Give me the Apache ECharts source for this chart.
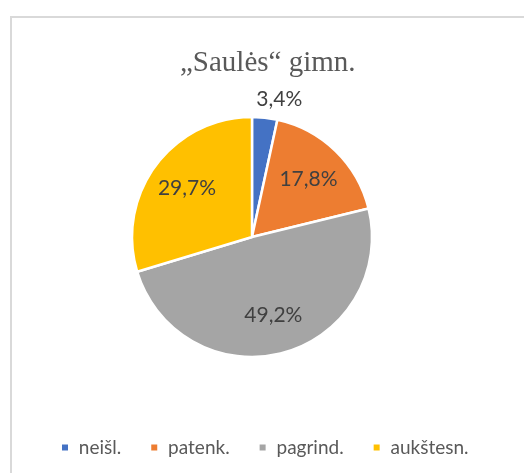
<!DOCTYPE html>
<html>
<head>
<meta charset="utf-8">
<script src="https://cdn.jsdelivr.net/npm/echarts@6/dist/echarts.min.js"></script>
<style>
  html, body { margin: 0; padding: 0; background: #fff; }
  #main { width: 524px; height: 473px; }
</style>
</head>
<body>
<div id="main"></div>
<script>
var categories = ['neišl.', 'patenk.', 'pagrind.', 'aukštesn.'];
var values = [3.4, 17.8, 49.2, 29.7];
var colors = ['#4472C4', '#ED7D31', '#A5A5A5', '#FFC000'];

function fmt(v) {
  return v.toFixed(1).replace('.', ',') + '%';
}

// spalvotos skiltys
var pieData = categories.map(function (name, i) {
  return { name: name, value: values[i], itemStyle: { color: colors[i] } };
});

// permatomas sluoksnis etiketėms vidury (toliau nuo centro nei numatyta)
var innerLabels = categories.map(function (name, i) {
  return { name: name, value: values[i], label: { show: i !== 0 } };
});
// o maža skiltis - etiketė virš pyrago
var outerLabels = categories.map(function (name, i) {
  return { name: name, value: values[i], label: { show: i === 0 } };
});

var labelStyle = {
  position: 'inside',
  fontFamily: 'Lato',
  fontSize: 21,
  color: '#404040',
  formatter: function (p) { return fmt(p.value); }
};

var chart = echarts.init(document.getElementById('main'));
var option = {
  backgroundColor: '#fff',
  animation: false,
  title: {
    text: '„Saulės“ gimn.',
    left: 175,
    top: 44,
    textStyle: {
      fontFamily: 'Liberation Serif',
      fontSize: 29,
      fontWeight: 'normal',
      color: '#595959'
    }
  },
  legend: {
    data: categories,
    left: 55,
    top: 433,
    icon: 'rect',
    itemWidth: 8,
    itemHeight: 8,
    itemGap: 28,
    formatter: function (name) { return ' ' + name; },
    textStyle: {
      fontFamily: 'Lato',
      fontSize: 19,
      color: '#595959'
    }
  },
  graphic: [{
    type: 'rect',
    shape: { x: 11, y: 17, width: 530, height: 480 },
    style: { fill: 'none', stroke: '#D9D9D9', lineWidth: 2 },
    silent: true
  }],
  series: [{
    type: 'pie',
    center: [252, 237],
    radius: 120,
    startAngle: 90,
    data: pieData,
    label: { show: false },
    labelLine: { show: false },
    itemStyle: { borderColor: '#fff', borderWidth: 2.5 },
    emphasis: { disabled: true }
  }, {
    type: 'pie',
    center: [252, 237],
    radius: [36, 120],
    startAngle: 90,
    silent: true,
    data: innerLabels,
    itemStyle: { color: 'rgba(0,0,0,0)' },
    label: labelStyle,
    labelLine: { show: false },
    emphasis: { disabled: true }
  }, {
    type: 'pie',
    center: [252, 237],
    radius: [128, 152],
    startAngle: 90,
    silent: true,
    data: outerLabels,
    itemStyle: { color: 'rgba(0,0,0,0)' },
    label: Object.assign({}, labelStyle, { offset: [12, 4] }),
    labelLine: { show: false },
    emphasis: { disabled: true }
  }]
};
chart.setOption(option);
</script>
</body>
</html>
